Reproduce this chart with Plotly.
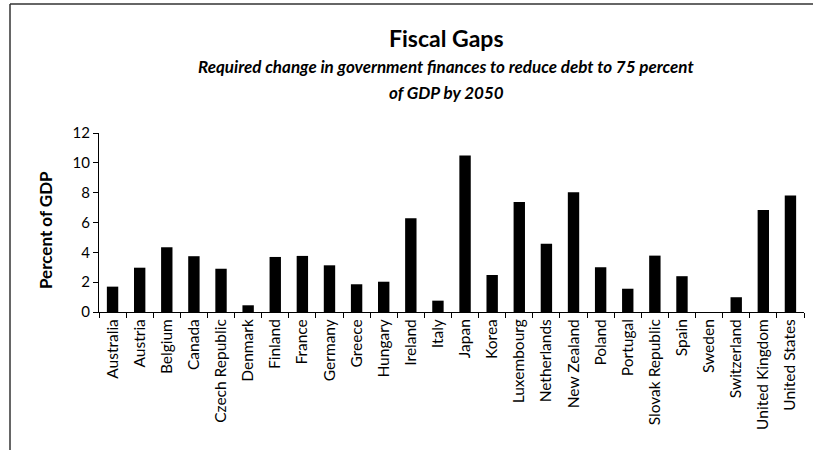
import plotly.graph_objects as go

countries = ["Australia", "Austria", "Belgium", "Canada", "Czech Republic", "Denmark",
             "Finland", "France", "Germany", "Greece", "Hungary", "Ireland", "Italy",
             "Japan", "Korea", "Luxembourg", "Netherlands", "New Zealand", "Poland",
             "Portugal", "Slovak Republic", "Spain", "Sweden", "Switzerland",
             "United Kingdom", "United States"]
fiscal_gap = [1.7, 2.97, 4.34, 3.74, 2.9, 0.45, 3.69, 3.76, 3.13, 1.86, 2.03, 6.29, 0.76,
              10.49, 2.48, 7.38, 4.58, 8.03, 3.0, 1.56, 3.78, 2.4, 0.0, 0.99, 6.83, 7.81]
y_ticks = [0, 2, 4, 6, 8, 10, 12]

title_text = "Fiscal Gaps"
subtitle_1 = "Required change in government finances to reduce debt to 75 percent"
subtitle_2 = "of GDP by 2050"
y_title = "Percent of GDP"

FONT = "Lato"

# plot area in pixels
L, R, T, B = 99, 9, 133, 138
W, H = 813, 450
pw = W - L - R
ph = H - T - B

def px_x(x):
    return (x - L) / pw

def px_y(y):
    return (H - B - y) / ph

fig = go.Figure()
fig.add_trace(go.Bar(x=countries, y=fiscal_gap, marker=dict(color="black", line=dict(width=0)),
                     width=0.42))

fig.update_layout(
    width=W, height=H,
    margin=dict(l=L, r=R, t=T, b=B),
    paper_bgcolor="white", plot_bgcolor="white",
    showlegend=False,
    font=dict(family=FONT, color="black"),
    xaxis=dict(
        type="category", tickangle=-90, tickfont=dict(size=15.5, family=FONT),
        showline=True, linecolor="black", linewidth=1,
        ticks="outside", ticklen=5, tickcolor="black", tickson="boundaries",
        showgrid=False, zeroline=False,
    ),
    yaxis=dict(
        range=[0, 12], tickvals=y_ticks, tickfont=dict(size=15, family=FONT),
        showline=True, linecolor="black", linewidth=1,
        ticks="outside", ticklen=5, tickcolor="black",
        showgrid=False, zeroline=False,
    ),
)

annotations = [
    dict(text="<b>" + title_text + "</b>", x=px_x(446), y=px_y(38), xref="paper", yref="paper",
         showarrow=False, font=dict(size=23, family=FONT), xanchor="center", yanchor="middle"),
    dict(text="<b><i>" + subtitle_1 + "</i></b>", x=px_x(446), y=px_y(66), xref="paper", yref="paper",
         showarrow=False, font=dict(size=17, family=FONT), xanchor="center", yanchor="middle"),
    dict(text="<b><i>" + subtitle_2 + "</i></b>", x=px_x(446), y=px_y(92), xref="paper", yref="paper",
         showarrow=False, font=dict(size=17, family=FONT), xanchor="center", yanchor="middle"),
    dict(text="<b>" + y_title + "</b>", x=px_x(45), y=px_y(230), xref="paper", yref="paper",
         showarrow=False, textangle=-90, font=dict(size=17, family=FONT),
         xanchor="center", yanchor="middle"),
]
fig.update_layout(annotations=annotations)

fig.add_shape(type="line", xref="paper", yref="paper", x0=px_x(10), x1=px_x(10),
              y0=px_y(4), y1=px_y(452), line=dict(color="#333", width=1.5))
fig.add_shape(type="line", xref="paper", yref="paper", x0=px_x(10), x1=px_x(815),
              y0=px_y(4), y1=px_y(4), line=dict(color="#333", width=1.5))

fig.write_html("out.html")
